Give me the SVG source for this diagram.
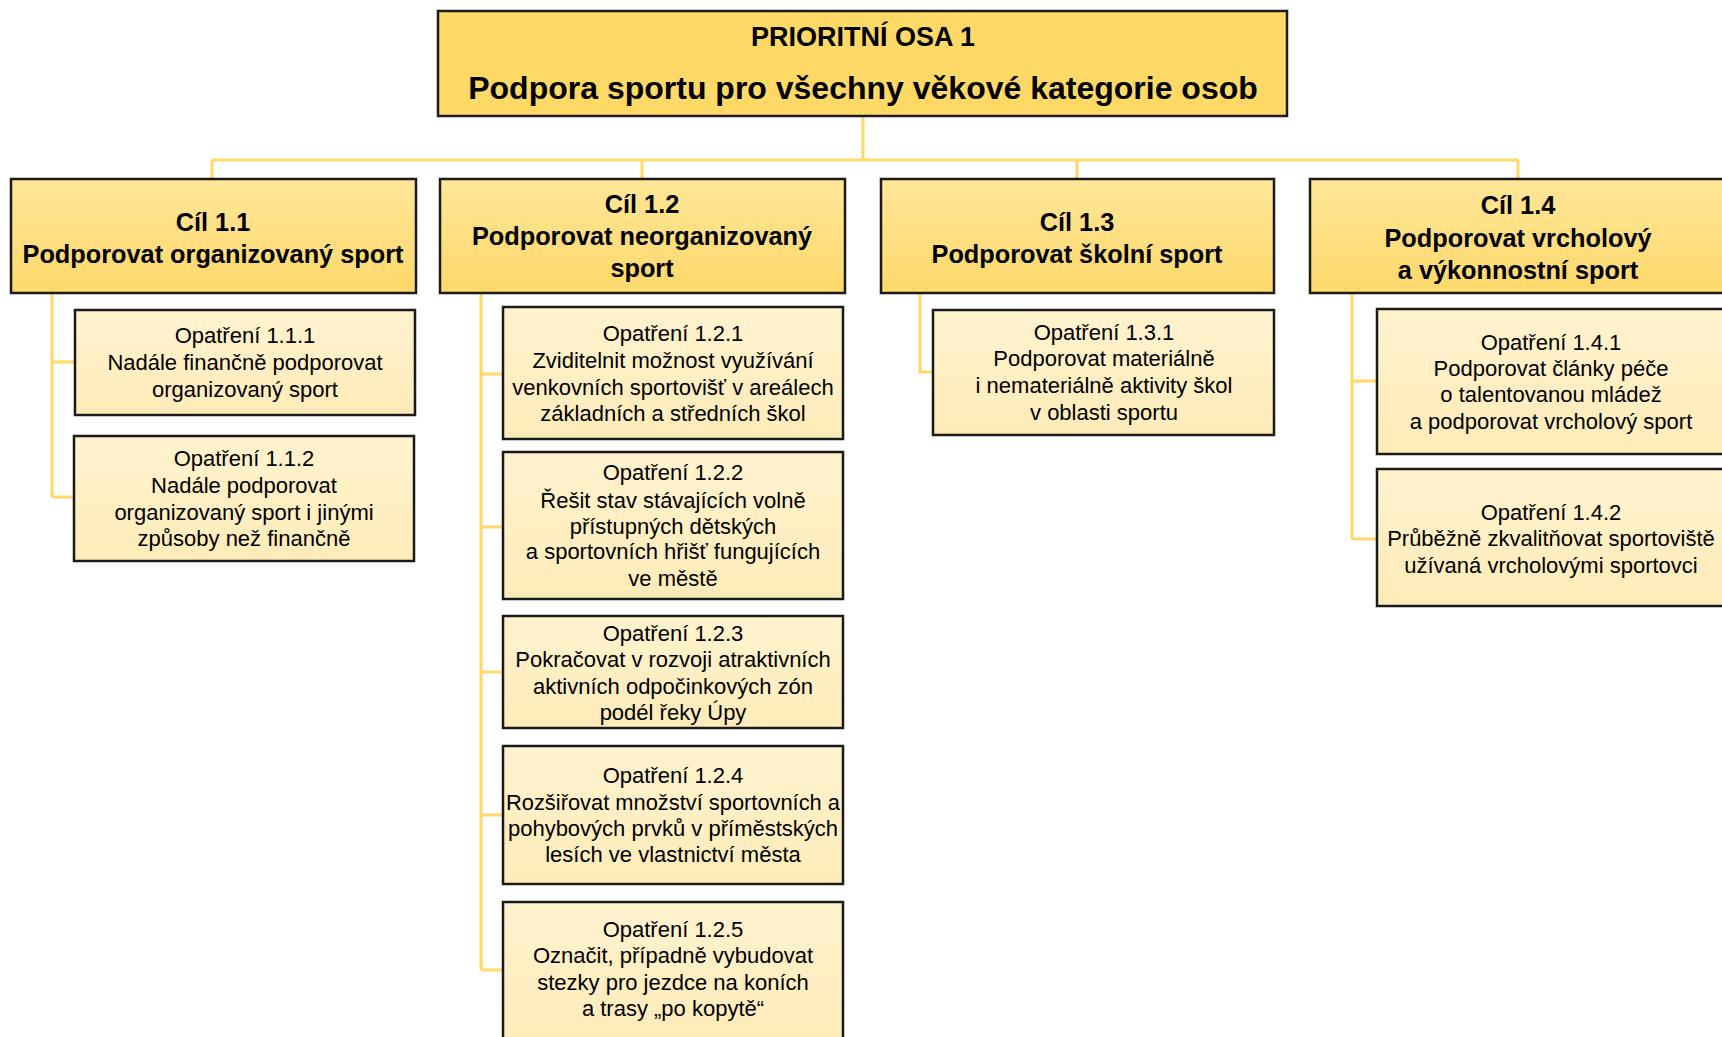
<svg xmlns="http://www.w3.org/2000/svg" width="1722" height="1037" viewBox="0 0 1722 1037">
<defs>
<linearGradient id="gCil" x1="0" y1="0" x2="0" y2="1"><stop offset="0" stop-color="#FFE699"/><stop offset="1" stop-color="#FDD86A"/></linearGradient>
<linearGradient id="gOp" x1="0" y1="0" x2="0" y2="1"><stop offset="0" stop-color="#FFF3CF"/><stop offset="1" stop-color="#FEEBB8"/></linearGradient>
<style>
.top{fill:#FFD966;stroke:#1a1a1a;stroke-width:2.5}
.cil{fill:url(#gCil);stroke:#1a1a1a;stroke-width:2.5}
.op{fill:url(#gOp);stroke:#1a1a1a;stroke-width:2.5}
text{font-family:"Liberation Sans",Arial,sans-serif;fill:#000;text-anchor:middle}
.t1{font-size:27px;font-weight:bold}
.t2{font-size:32px;font-weight:bold}
.tc{font-size:25.3px;font-weight:bold}
.to{font-size:22px}
.con{fill:none;stroke:#FFD966;stroke-width:3}
</style>
</defs>
<rect width="1722" height="1037" fill="#fff"/>
<g id="connectors">
<path class="con" d="M863 117V160M212 160H1518M212 160V179M642 160V179M1077 160V179M1518 160V179"/>
<path class="con" d="M52 293V497M52 362H75M52 497H74"/>
<path class="con" d="M481 293V970M481 374H503M481 527H503M481 672H503M481 815H503M481 970H503"/>
<path class="con" d="M920 293V372H933"/>
<path class="con" d="M1352 293V539M1352 381H1377M1352 539H1377"/>
</g>
<g id="osa1">
<rect class="top" x="438" y="11" width="849" height="105"/>
<text class="t1" x="863" y="46">PRIORITNÍ OSA 1</text>
<text class="t2" x="863" y="99">Podpora sportu pro všechny věkové kategorie osob</text>
</g>
<g id="cil11">
<rect class="cil" x="11" y="179" width="405" height="114"/>
<text class="tc" x="213" y="231">Cíl 1.1</text>
<text class="tc" x="213" y="263">Podporovat organizovaný sport</text>
</g>
<g id="cil12">
<rect class="cil" x="440" y="179" width="405" height="114"/>
<text class="tc" x="642" y="213">Cíl 1.2</text>
<text class="tc" x="642" y="245">Podporovat neorganizovaný</text>
<text class="tc" x="642" y="277">sport</text>
</g>
<g id="cil13">
<rect class="cil" x="881" y="179" width="393" height="114"/>
<text class="tc" x="1077" y="231">Cíl 1.3</text>
<text class="tc" x="1077" y="263">Podporovat školní sport</text>
</g>
<g id="cil14">
<rect class="cil" x="1310" y="179" width="416" height="114"/>
<text class="tc" x="1518" y="214">Cíl 1.4</text>
<text class="tc" x="1518" y="247">Podporovat vrcholový</text>
<text class="tc" x="1518" y="279">a výkonnostní sport</text>
</g>
<g id="op111">
<rect class="op" x="75" y="310" width="340" height="105"/>
<text class="to" x="245" y="343">Opatření 1.1.1</text>
<text class="to" x="245" y="370">Nadále finančně podporovat</text>
<text class="to" x="245" y="397">organizovaný sport</text>
</g>
<g id="op112">
<rect class="op" x="74" y="436" width="340" height="125"/>
<text class="to" x="244" y="466">Opatření 1.1.2</text>
<text class="to" x="244" y="493">Nadále podporovat</text>
<text class="to" x="244" y="520">organizovaný sport i jinými</text>
<text class="to" x="244" y="546">způsoby než finančně</text>
</g>
<g id="op121">
<rect class="op" x="503" y="307" width="340" height="132"/>
<text class="to" x="673" y="341">Opatření 1.2.1</text>
<text class="to" x="673" y="368">Zviditelnit možnost využívání</text>
<text class="to" x="673" y="395">venkovních sportovišť v areálech</text>
<text class="to" x="673" y="421">základních a středních škol</text>
</g>
<g id="op122">
<rect class="op" x="503" y="452" width="340" height="147"/>
<text class="to" x="673" y="480">Opatření 1.2.2</text>
<text class="to" x="673" y="508">Řešit stav stávajících volně</text>
<text class="to" x="673" y="534">přístupných dětských</text>
<text class="to" x="673" y="559">a sportovních hřišť fungujících</text>
<text class="to" x="673" y="586">ve městě</text>
</g>
<g id="op123">
<rect class="op" x="503" y="616" width="340" height="112"/>
<text class="to" x="673" y="641">Opatření 1.2.3</text>
<text class="to" x="673" y="667">Pokračovat v rozvoji atraktivních</text>
<text class="to" x="673" y="694">aktivních odpočinkových zón</text>
<text class="to" x="673" y="720">podél řeky Úpy</text>
</g>
<g id="op124">
<rect class="op" x="503" y="746" width="340" height="138"/>
<text class="to" x="673" y="783">Opatření 1.2.4</text>
<text class="to" x="673" y="810" textLength="334" lengthAdjust="spacingAndGlyphs">Rozšiřovat množství sportovních a</text>
<text class="to" x="673" y="836">pohybových prvků v příměstských</text>
<text class="to" x="673" y="862">lesích ve vlastnictví města</text>
</g>
<g id="op125">
<rect class="op" x="503" y="902" width="340" height="140"/>
<text class="to" x="673" y="937">Opatření 1.2.5</text>
<text class="to" x="673" y="963">Označit, případně vybudovat</text>
<text class="to" x="673" y="990">stezky pro jezdce na koních</text>
<text class="to" x="673" y="1016">a trasy „po kopytě“</text>
</g>
<g id="op131">
<rect class="op" x="933" y="310" width="341" height="125"/>
<text class="to" x="1104" y="340">Opatření 1.3.1</text>
<text class="to" x="1104" y="366">Podporovat materiálně</text>
<text class="to" x="1104" y="393">i nemateriálně aktivity škol</text>
<text class="to" x="1104" y="420">v oblasti sportu</text>
</g>
<g id="op141">
<rect class="op" x="1377" y="309" width="350" height="145"/>
<text class="to" x="1551" y="350">Opatření 1.4.1</text>
<text class="to" x="1551" y="376">Podporovat články péče</text>
<text class="to" x="1551" y="402">o talentovanou mládež</text>
<text class="to" x="1551" y="429">a podporovat vrcholový sport</text>
</g>
<g id="op142">
<rect class="op" x="1377" y="469" width="350" height="137"/>
<text class="to" x="1551" y="520">Opatření 1.4.2</text>
<text class="to" x="1551" y="546">Průběžně zkvalitňovat sportoviště</text>
<text class="to" x="1551" y="573">užívaná vrcholovými sportovci</text>
</g>
</svg>
